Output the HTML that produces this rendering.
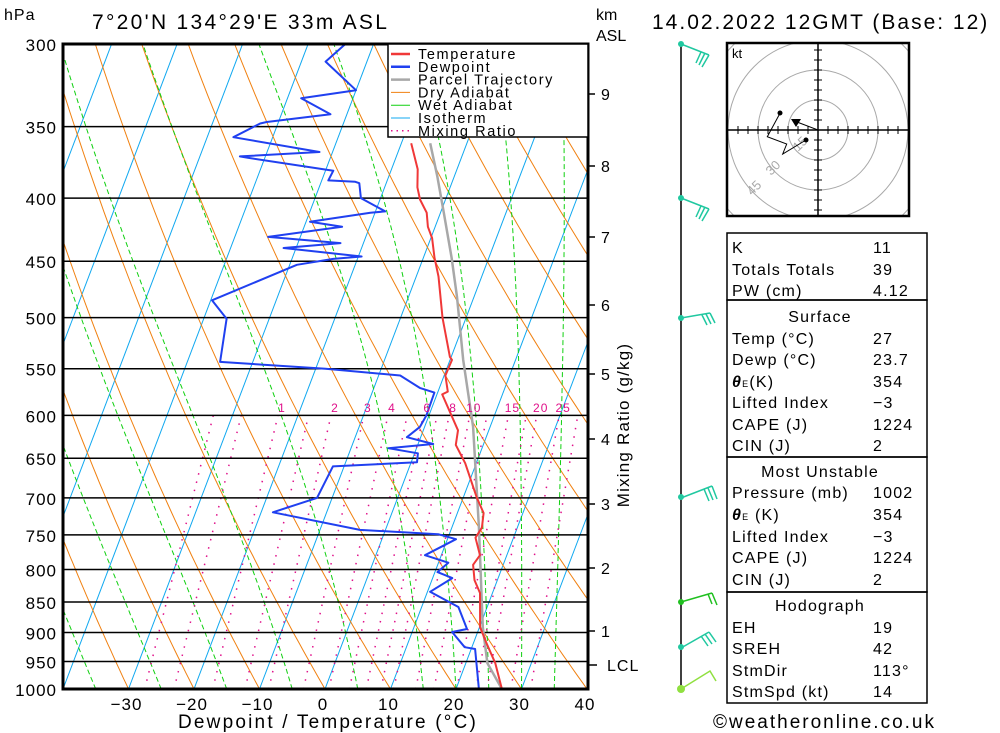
<!DOCTYPE html>
<html><head><meta charset="utf-8">
<style>
body{margin:0;background:#fff;}
svg{display:block;font-family:"Liberation Sans",sans-serif;}
</style></head>
<body>
<svg id="chart" width="1000" height="733" viewBox="0 0 1000 733" xmlns="http://www.w3.org/2000/svg">
<defs><clipPath id="plotclip"><rect x="63" y="44" width="525" height="645"/></clipPath>
<clipPath id="hodoclip"><rect x="727" y="43" width="182" height="173"/></clipPath></defs>
<rect width="1000" height="733" fill="#fff"/>
<g id="bg" clip-path="url(#plotclip)"></g>
<g id="levels"></g>
<g id="series" clip-path="url(#plotclip)"></g>
<rect x="63" y="44" width="525" height="645" fill="none" stroke="#000" stroke-width="3"/>
<g id="legend">
 <rect x="388" y="44" width="200" height="93" fill="#fff" stroke="#000" stroke-width="1.5"/>
</g>
<g id="axes"></g>
<text x="4" y="20" font-size="16" letter-spacing="1">hPa</text>
<text x="92" y="29" font-size="21" letter-spacing="2.3">7°20'N  134°29'E  33m  ASL</text>
<text x="596" y="20" font-size="16">km</text>
<text x="596" y="41" font-size="16">ASL</text>
<text x="652" y="29" font-size="21" letter-spacing="2">14.02.2022  12GMT  (Base: 12)</text>
<text x="328" y="728" font-size="19" letter-spacing="2.2" text-anchor="middle">Dewpoint / Temperature (°C)</text>
<text transform="translate(629,425) rotate(-90)" font-size="17" letter-spacing="1.2" text-anchor="middle">Mixing Ratio (g/kg)</text>
<g id="winds"></g>
<g id="hodo"></g>
<g id="tables"></g>
<text x="713" y="728" font-size="19" letter-spacing="2">©weatheronline.co.uk</text>
</svg>
<script>
// ---- data ----
const tempP = [1000,953,918,891,836,816,793,779,754,740,720,700,656,634,617,577,574,557,541,538,500,463,447,431,422,411,401,392,379,361];
const tempT = [27.0,24.5,22.0,20.1,18.1,16.5,15.4,15.9,14.2,14.6,14.0,12.1,8.3,5.8,5.3,0.8,1.5,0.2,0.3,-0.2,-3.6,-6.6,-8.3,-9.8,-11.1,-12.1,-13.9,-15.0,-16.0,-18.5];
const dewP = [1000,928,925,899,894,858,834,813,804,790,779,756,749,743,719,700,660,655,644,638,633,625,613,600,575,570,557,550,543,501,484,453,448,446,439,435,430,422,418,411,410,400,389,388,387,380,371,370,367,357,348,347,342,332,327,310,300];
const dewT = [23.5,20.6,18.9,16.1,18.2,15.6,10.4,13.0,10.4,11.5,7.5,11.3,8.3,-3.9,-18.2,-12.3,-11.7,0.9,0.5,-4.3,2.3,-2.1,-0.7,-0.4,-0.5,-3.0,-6.7,-18.5,-35.0,-36.5,-39.8,-28.9,-23.7,-19.5,-31.9,-23.5,-34.9,-24.2,-29.4,-20.7,-18.5,-23.0,-24.1,-24.8,-29.0,-28.8,-42.6,-43.9,-32.0,-46.0,-42.7,-41.8,-32.5,-37.9,-30.0,-36.3,-34.3];
const parcelP = [1000,953,891,739,613,541,481,447,411,384,361];
const parcelT = [27,23.3,20.5,14.1,7.4,2.0,-2.6,-5.7,-9.5,-12.6,-15.6];
const pLevels = [300,350,400,450,500,550,600,650,700,750,800,850,900,950,1000];
const tempTicks = [-30,-20,-10,0,10,20,30,40];
const kmLabels = [1,2,3,4,5,6,7,8,9];
const kmY = [631,568,504,439,374,305,237,166,94];
const mixRatios = [0.4,0.6,1,1.5,2,3,4,5,6,7,8,10,12,15,18,20,25,30];
const mixLabels = [1,2,3,4,6,8,10,15,20,25];
const wetThetas = [-35,-25,-15,-5,5,15,20,25,30,35];

// ---- axis functions ----
const NS='http://www.w3.org/2000/svg';
function yP(p){return 689-535.7*Math.log(1000/p);}
function xT(t,p){return 325+6.55*t+0.38*(689-yP(p));}
function mk(tag,attrs,parent){const e=document.createElementNS(NS,tag);for(const k in attrs)e.setAttribute(k,attrs[k]);parent.appendChild(e);return e;}
function poly(pts){return pts.map(q=>q[0].toFixed(1)+','+q[1].toFixed(1)).join(' ');}
const bg=document.getElementById('bg');
for(let t=-120;t<=40;t+=10){
  const l=mk('line',{x1:xT(t,1000),y1:yP(1000),x2:xT(t,300),y2:yP(300),stroke:'#10a8f0','stroke-width':1},bg);
  
  
}
for(let th=-40;th<=130;th+=10){
  const pts=[];
  for(let p=1000;p>=295;p-=10){pts.push([xT((th+273.15)*Math.pow(p/1000,0.286)-273.15,p),yP(p)]);}
  const l=mk('polyline',{points:poly(pts),fill:'none',stroke:'#f08010','stroke-width':1},bg);
  
  
}
for(const tw of wetThetas){
  let T=tw+273.15;const pts=[];
  for(let p=1000;p>=295;p-=5){
    pts.push([xT(T-273.15,p),yP(p)]);
    const es=6.112*Math.exp(17.67*(T-273.15)/(T-29.65));const rs=0.622*es/(p-es);
    const d=(287*T+2.5e6*rs)/(p*(1005+2.5e6*2.5e6*rs*0.622/(287*T*T)));
    T-=d*5;
  }
  const l=mk('polyline',{points:poly(pts),fill:'none',stroke:'#10d010','stroke-width':1,'stroke-dasharray':'5,3'},bg);
  
  
}
function tdFromW(w,p){const e=w*p/(622+w);const a=Math.log(e/6.112);return 243.5*a/(17.67-a);}
for(const w of mixRatios){
  const l=mk('line',{x1:xT(tdFromW(w,1000),1000),y1:yP(1000),x2:xT(tdFromW(w,600),600),y2:yP(600),stroke:'#e0108a','stroke-width':1.5,'stroke-dasharray':'1.5,7'},bg);
  
  
}
const ax=document.getElementById('axes');
for(const w of mixLabels){
  const t=mk('text',{x:xT(tdFromW(w,600),600)+4,y:412,'font-size':12,fill:'#e0108a','text-anchor':'middle','letter-spacing':1},ax);
  t.textContent=w;
  
  
}
const lv=document.getElementById('levels');
for(const p of pLevels){
  const l=mk('line',{x1:63,y1:yP(p),x2:588,y2:yP(p),stroke:'#000','stroke-width':1.5},lv);
  
  
  const t=mk('text',{x:57,y:yP(p)+7,'font-size':17,'text-anchor':'end','letter-spacing':1},ax);
  t.textContent=p;
  
  
}
for(const t0 of tempTicks){
  const t=mk('text',{x:xT(t0,1000)-2,y:710,'font-size':17,'text-anchor':'middle','letter-spacing':1},ax);
  t.textContent=t0<0?'\u2212'+(-t0):t0;
  
  
}
kmLabels.forEach((k,i)=>{
  const l=mk('line',{x1:588,y1:kmY[i],x2:595,y2:kmY[i],stroke:'#000','stroke-width':1.5},ax);
  
  
  const t=mk('text',{x:601,y:kmY[i]+6,'font-size':16},ax);
  t.textContent=k;
  
  
});
const lcl=mk('line',{x1:588,y1:665,x2:597,y2:665,stroke:'#000','stroke-width':1.5},ax);


const lclT=mk('text',{x:607,y:671,'font-size':16,'letter-spacing':1},ax);
lclT.textContent='LCL';


const ser=document.getElementById('series');
function series(P,T,color,w,name){
  const pts=P.map((p,i)=>[xT(T[i],p),yP(p)]);
  const l=mk('polyline',{points:poly(pts),fill:'none',stroke:color,'stroke-width':w,'stroke-linejoin':'round'},ser);
  
  
}
series(parcelP,parcelT,'#a8a8a8',2.5,'parcel-trajectory-line');
series(tempP,tempT,'#f03838',2,'temperature-line');
series(dewP,dewT,'#2040f0',2,'dewpoint-line');
const lg=document.getElementById('legend');
const legItems=[['Temperature','#f03838',2.5,''],['Dewpoint','#2040f0',2.5,''],['Parcel Trajectory','#a8a8a8',2.5,''],['Dry Adiabat','#f08010',1,''],['Wet Adiabat','#10d010',1,''],['Isotherm','#10a8f0',1,''],['Mixing Ratio','#e0108a',1.5,'1.5,4']];
legItems.forEach((it,i)=>{
  const y=54+i*12.8;
  const l=mk('line',{x1:391,y1:y,x2:410,y2:y,stroke:it[1],'stroke-width':it[2]},lg);
  if(it[3])l.setAttribute('stroke-dasharray',it[3]);
  
  
  const t=mk('text',{x:418,y:y+5,'font-size':14.5,'letter-spacing':1.6},lg);
  t.textContent=it[0];
  
  
});
const wd=document.getElementById('winds');
const ws=mk('line',{x1:681,y1:44,x2:681,y2:689,stroke:'#000','stroke-width':1.5},wd);


const barbs=[
 [44,'#20c8a0','M681,44 L709,55 M709,55 L702,67 M705,53 L699,65 M701,52 L696,63'],
 [198,'#20c8a0','M681,198 L709,209 M709,209 L702,221 M705,207 L699,219 M701,206 L696,217'],
 [318,'#20c8a0','M681,318 L710,313 M710,313 L715,323 M706,314 L711,324 M702,315 L707,325'],
 [497,'#20c8a0','M681,498 L712,486 M712,486 L717,499 M708,488 L713,500 M704,489 L709,501'],
 [602,'#20c020','M681,602 L712,593 M712,593 L717,605 M708,594 L712,604'],
 [647,'#20c8a0','M681,648 L709,632 M709,632 L716,642 M705,634 L712,644 M701,636 L708,646'],
 [689,'#90e040','M681,689 L710,671 L716,681']];
for(const b of barbs){
  const pth=mk('path',{d:b[2],stroke:b[1],'stroke-width':1.5,fill:'none'},wd);
  
  
  const c=mk('circle',{cx:681,cy:b[0],r:b===barbs[6]?4:3,fill:b[1]},wd);
  
  
}
const hd=document.getElementById('hodo');
const hc=mk('g',{'clip-path':'url(#hodoclip)'},hd);
for(const r of [30,60,90,120]){
  const c=mk('circle',{cx:818,cy:130,r:r,fill:'none',stroke:'#a8a8a8','stroke-width':1},hc);
  
  
}
mk('line',{x1:727,y1:130,x2:909,y2:130,stroke:'#000','stroke-width':1.5},hc);
mk('line',{x1:818,y1:43,x2:818,y2:216,stroke:'#000','stroke-width':1.5},hc);
for(let d=-80;d<=80;d+=10){ if(d===0)continue;
  mk('line',{x1:818+d,y1:126,x2:818+d,y2:134,stroke:'#000','stroke-width':1},hc);
  mk('line',{x1:814,y1:130+d,x2:822,y2:130+d,stroke:'#000','stroke-width':1},hc);}
mk('rect',{x:727,y:43,width:182,height:173,fill:'none',stroke:'#000','stroke-width':2.5},hd);
const kt=mk('text',{x:732,y:58,'font-size':13},hd);kt.textContent='kt';


[['15',798,152],['30',771,176],['45',752,196]].forEach(a=>{
  const t=mk('text',{x:a[1],y:a[2],'font-size':13,fill:'#a8a8a8',transform:`rotate(-45 ${a[1]} ${a[2]})`},hd);t.textContent=a[0];
  
  
});
const ht=mk('polyline',{points:'806,140 782.7,154 786.7,144 767.3,136.7 780,113.3',fill:'none',stroke:'#000','stroke-width':1},hd);


mk('line',{x1:818,y1:130,x2:797,y2:122,stroke:'#000','stroke-width':1},hd);
mk('polygon',{points:'791,119 801,119 796,127',fill:'#000'},hd);
mk('circle',{cx:806,cy:140,r:2.5,fill:'#000'},hd);
mk('circle',{cx:780,cy:113,r:2.5,fill:'#000'},hd);
const tb=document.getElementById('tables');
const boxes=[[233,300],[300,457],[457,592],[592,703]];
for(const b of boxes){
  const r=mk('rect',{x:727,y:b[0],width:200,height:b[1]-b[0],fill:'none',stroke:'#000','stroke-width':1.5},tb);
  
  
}
const rows=[
 [253,'K','11'],[275,'Totals Totals','39'],[296,'PW (cm)','4.12'],
 [322,'Surface',null],[344,'Temp (°C)','27'],[365,'Dewp (°C)','23.7'],[387,'θE(K)','354'],[408,'Lifted Index','\u22123'],[430,'CAPE (J)','1224'],[451,'CIN (J)','2'],
 [477,'Most Unstable',null],[498,'Pressure (mb)','1002'],[520,'θE (K)','354'],[542,'Lifted Index','\u22123'],[563,'CAPE (J)','1224'],[585,'CIN (J)','2'],
 [611,'Hodograph',null],[633,'EH','19'],[654,'SREH','42'],[676,'StmDir','113°'],[697,'StmSpd (kt)','14']];
for(const r of rows){
  if(r[2]===null){
    const t=mk('text',{x:820,y:r[0],'font-size':16,'text-anchor':'middle','letter-spacing':1.2},tb);t.textContent=r[1];
    
    
  } else {
    const t=mk('text',{x:732,y:r[0],'font-size':16,'letter-spacing':1.2},tb);
    if(r[1].startsWith('θE')){t.innerHTML='<tspan font-weight="bold" font-style="italic">θ</tspan><tspan font-size="9">E</tspan>'+r[1].slice(2);}
    else t.textContent=r[1];
    
    
    const v=mk('text',{x:873,y:r[0],'font-size':16,'letter-spacing':1.2},tb);v.textContent=r[2];
    
    
  }
}
</script>
</body></html>
